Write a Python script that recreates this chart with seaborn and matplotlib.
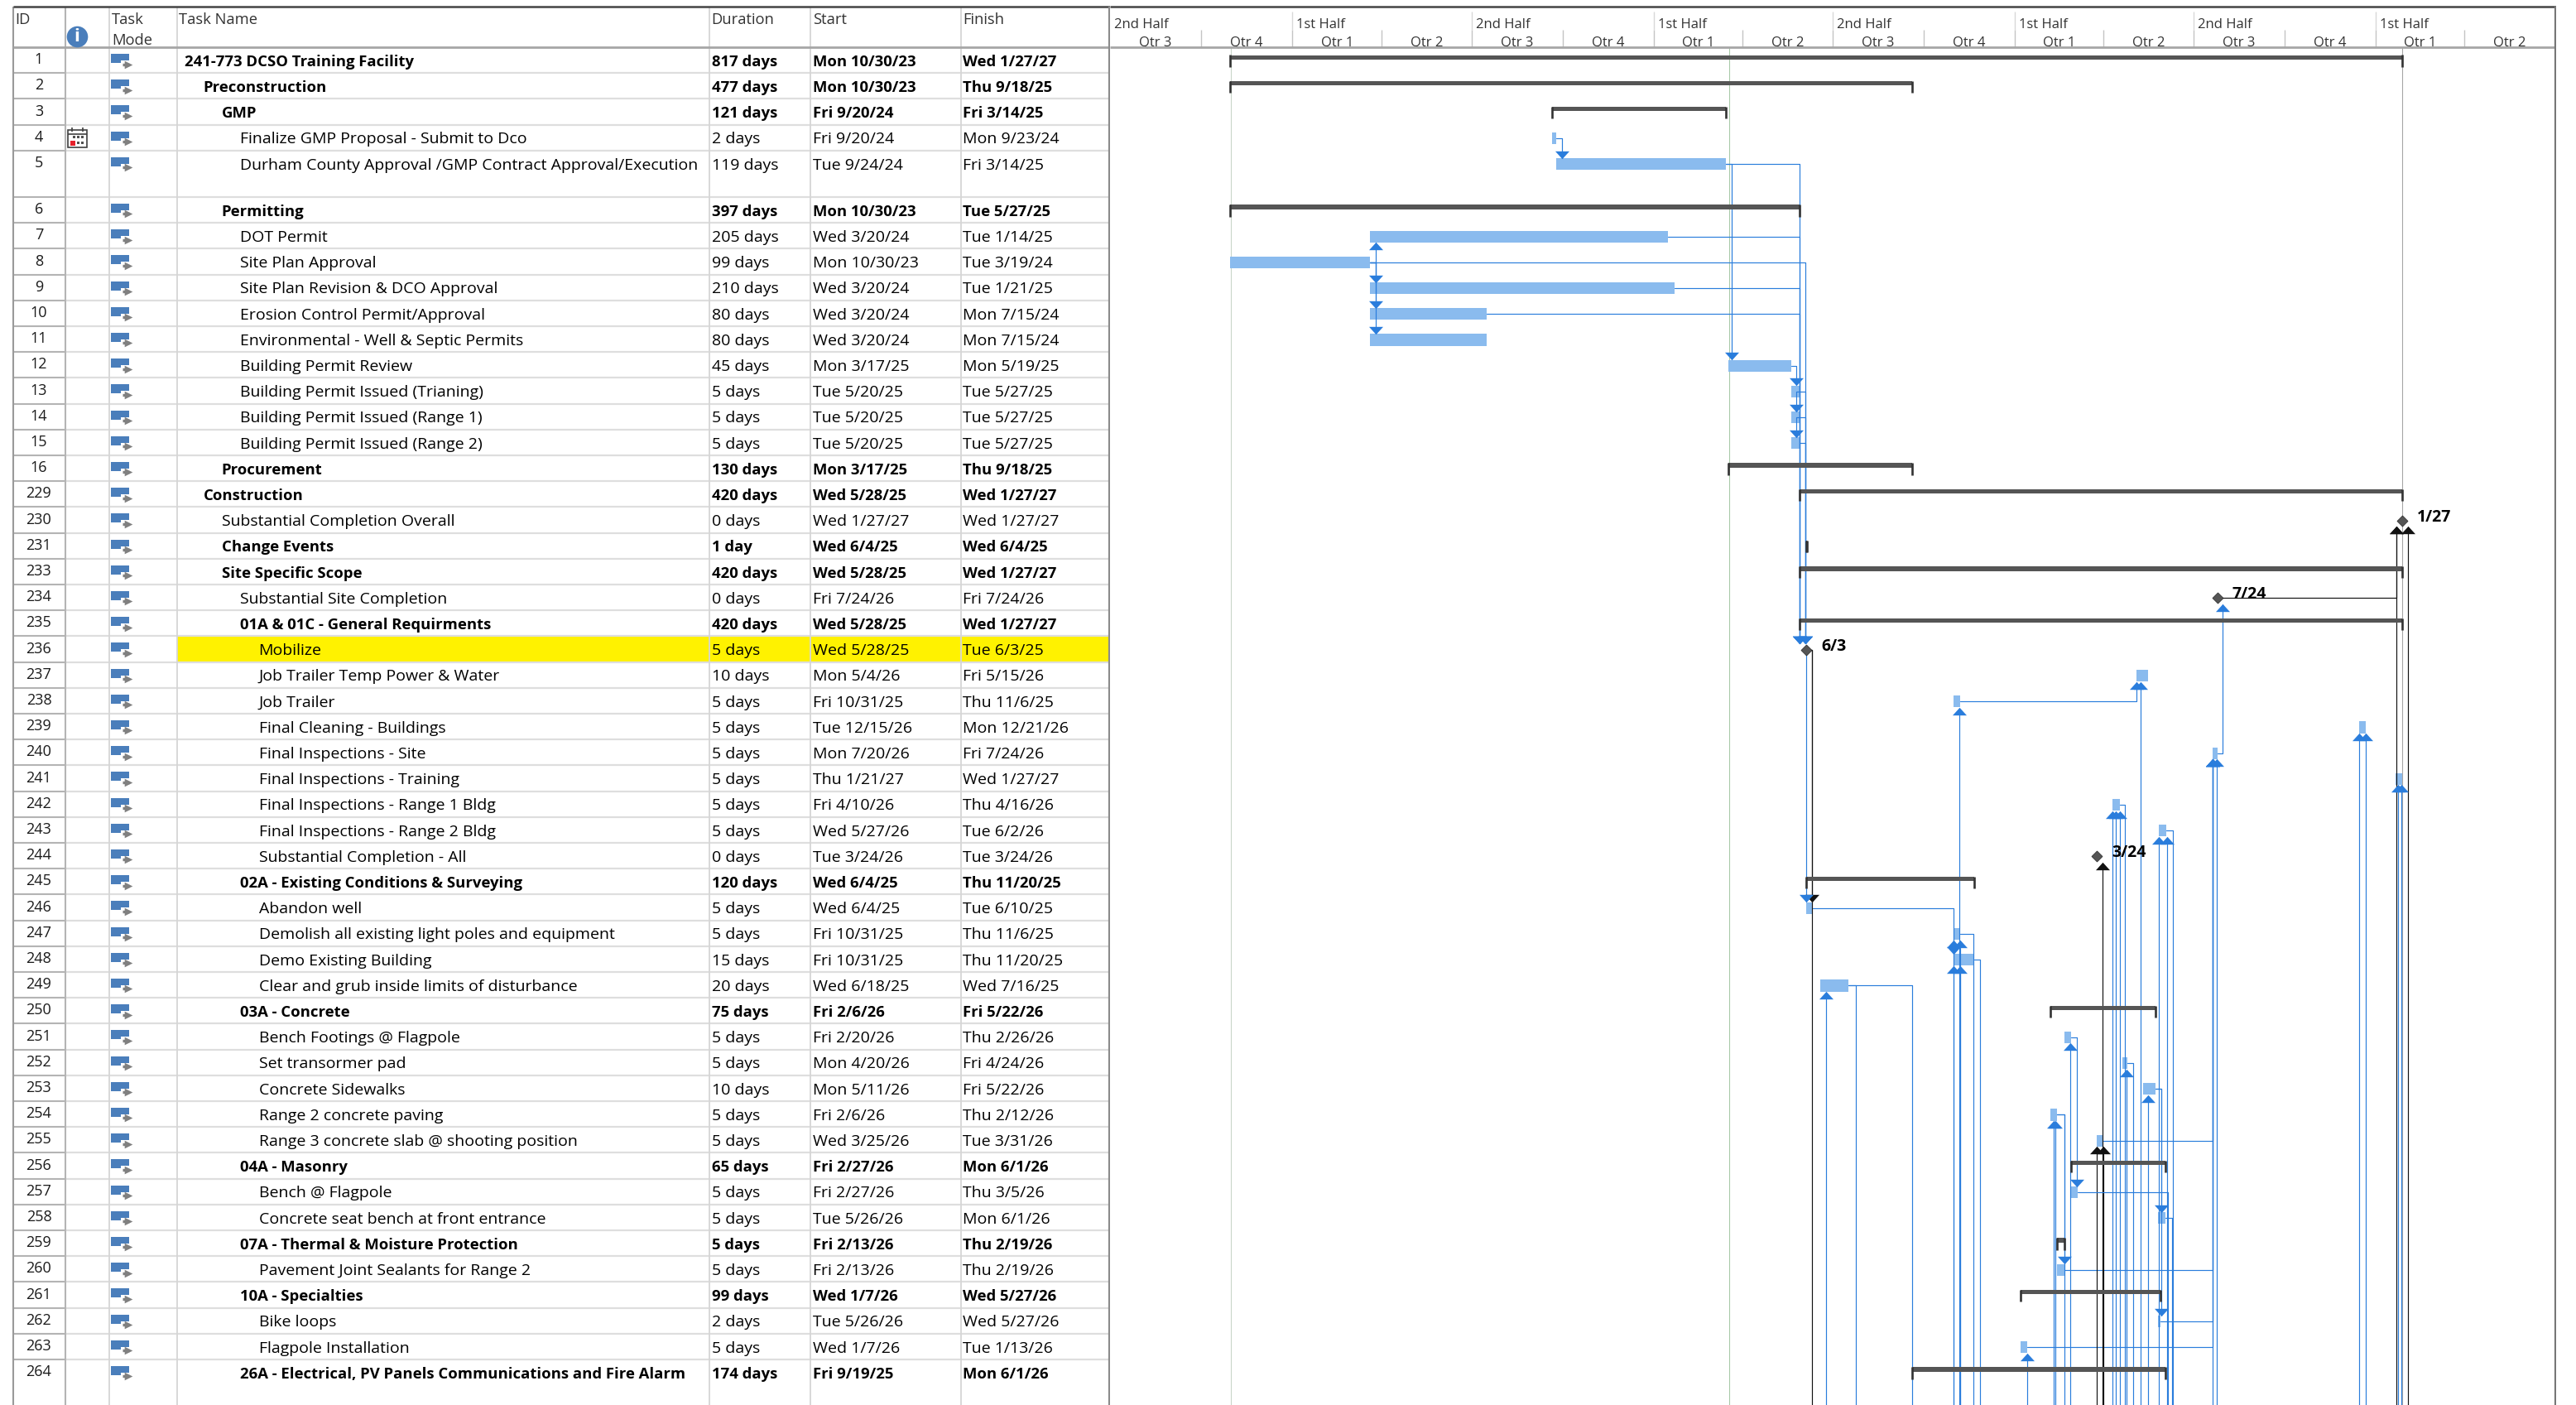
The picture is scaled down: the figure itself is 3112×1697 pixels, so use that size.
import numpy as np
import pandas as pd
import matplotlib
matplotlib.use("Agg")
import matplotlib.pyplot as plt
import matplotlib.dates as mdates
from matplotlib.patches import Rectangle
import seaborn as sns

# table columns, as printed in the schedule
ids = [1, 2, 3, 4, 5, 6, 7, 8, 9, 10, 11, 12, 13, 14, 15, 16,
       229, 230, 231, 233, 234, 235, 236, 237, 238, 239, 240, 241, 242, 243, 244,
       245, 246, 247, 248, 249, 250, 251, 252, 253, 254, 255, 256, 257, 258,
       259, 260, 261, 262, 263, 264]
names = [
    "241-773 DCSO Training Facility", "Preconstruction", "GMP",
    "Finalize GMP Proposal - Submit to Dco",
    "Durham County Approval /GMP Contract Approval/Execution", "Permitting",
    "DOT Permit", "Site Plan Approval", "Site Plan Revision & DCO Approval",
    "Erosion Control Permit/Approval", "Environmental - Well & Septic Permits",
    "Building Permit Review", "Building Permit Issued (Trianing)",
    "Building Permit Issued (Range 1)", "Building Permit Issued (Range 2)", "Procurement",
    "Construction", "Substantial Completion Overall", "Change Events", "Site Specific Scope",
    "Substantial Site Completion", "01A & 01C - General Requirments", "Mobilize",
    "Job Trailer Temp Power & Water", "Job Trailer", "Final Cleaning - Buildings",
    "Final Inspections - Site", "Final Inspections - Training",
    "Final Inspections - Range 1 Bldg", "Final Inspections - Range 2 Bldg",
    "Substantial Completion - All", "02A - Existing Conditions & Surveying", "Abandon well",
    "Demolish all existing light poles and equipment", "Demo Existing Building",
    "Clear and grub inside limits of disturbance", "03A - Concrete",
    "Bench Footings @ Flagpole", "Set transormer pad", "Concrete Sidewalks",
    "Range 2 concrete paving", "Range 3 concrete slab @ shooting position", "04A - Masonry",
    "Bench @ Flagpole", "Concrete seat bench at front entrance",
    "07A - Thermal & Moisture Protection", "Pavement Joint Sealants for Range 2",
    "10A - Specialties", "Bike loops", "Flagpole Installation",
    "26A - Electrical, PV Panels Communications and Fire Alarm",
]
durations = [
    "817 days", "477 days", "121 days", "2 days", "119 days", "397 days", "205 days", "99 days",
    "210 days", "80 days", "80 days", "45 days", "5 days", "5 days", "5 days", "130 days",
    "420 days", "0 days", "1 day", "420 days", "0 days", "420 days", "5 days", "10 days",
    "5 days", "5 days", "5 days", "5 days", "5 days", "5 days", "0 days", "120 days",
    "5 days", "5 days", "15 days", "20 days", "75 days", "5 days", "5 days", "10 days",
    "5 days", "5 days", "65 days", "5 days", "5 days", "5 days", "5 days", "99 days",
    "2 days", "5 days", "174 days",
]
starts = [
    "Mon 10/30/23", "Mon 10/30/23", "Fri 9/20/24", "Fri 9/20/24", "Tue 9/24/24", "Mon 10/30/23",
    "Wed 3/20/24", "Mon 10/30/23", "Wed 3/20/24", "Wed 3/20/24", "Wed 3/20/24", "Mon 3/17/25",
    "Tue 5/20/25", "Tue 5/20/25", "Tue 5/20/25", "Mon 3/17/25", "Wed 5/28/25", "Wed 1/27/27",
    "Wed 6/4/25", "Wed 5/28/25", "Fri 7/24/26", "Wed 5/28/25", "Wed 5/28/25", "Mon 5/4/26",
    "Fri 10/31/25", "Tue 12/15/26", "Mon 7/20/26", "Thu 1/21/27", "Fri 4/10/26", "Wed 5/27/26",
    "Tue 3/24/26", "Wed 6/4/25", "Wed 6/4/25", "Fri 10/31/25", "Fri 10/31/25", "Wed 6/18/25",
    "Fri 2/6/26", "Fri 2/20/26", "Mon 4/20/26", "Mon 5/11/26", "Fri 2/6/26", "Wed 3/25/26",
    "Fri 2/27/26", "Fri 2/27/26", "Tue 5/26/26", "Fri 2/13/26", "Fri 2/13/26", "Wed 1/7/26",
    "Tue 5/26/26", "Wed 1/7/26", "Fri 9/19/25",
]
finishes = [
    "Wed 1/27/27", "Thu 9/18/25", "Fri 3/14/25", "Mon 9/23/24", "Fri 3/14/25", "Tue 5/27/25",
    "Tue 1/14/25", "Tue 3/19/24", "Tue 1/21/25", "Mon 7/15/24", "Mon 7/15/24", "Mon 5/19/25",
    "Tue 5/27/25", "Tue 5/27/25", "Tue 5/27/25", "Thu 9/18/25", "Wed 1/27/27", "Wed 1/27/27",
    "Wed 6/4/25", "Wed 1/27/27", "Fri 7/24/26", "Wed 1/27/27", "Tue 6/3/25", "Fri 5/15/26",
    "Thu 11/6/25", "Mon 12/21/26", "Fri 7/24/26", "Wed 1/27/27", "Thu 4/16/26", "Tue 6/2/26",
    "Tue 3/24/26", "Thu 11/20/25", "Tue 6/10/25", "Thu 11/6/25", "Thu 11/20/25", "Wed 7/16/25",
    "Fri 5/22/26", "Thu 2/26/26", "Fri 4/24/26", "Fri 5/22/26", "Thu 2/12/26", "Tue 3/31/26",
    "Mon 6/1/26", "Thu 3/5/26", "Mon 6/1/26", "Thu 2/19/26", "Thu 2/19/26", "Wed 5/27/26",
    "Wed 5/27/26", "Tue 1/13/26", "Mon 6/1/26",
]
levels = [0, 1, 2, 3, 3, 2, 3, 3, 3, 3, 3, 3, 3, 3, 3, 2,
          1, 2, 2, 2, 3, 3, 4, 4, 4, 4, 4, 4, 4, 4, 4,
          3, 4, 4, 4, 4, 3, 4, 4, 4, 4, 4, 3, 4, 4, 3, 4, 3, 4, 4, 3]
summary_ids = [1, 2, 3, 6, 16, 229, 231, 233, 235, 245, 250, 256, 259, 261, 264]
milestone_ids = [230, 234, 236, 244]
highlight_id = 236
tall_id = 5

half_labels = ["2nd Half", "1st Half"] * 4
quarter_labels = ["Qtr 3", "Qtr 4", "Qtr 1", "Qtr 2"] * 4
marker_dates = ["2023-10-30", "2025-03-17", "2027-01-27"]

# dependencies drawn between visible tasks: predecessor, successor, days right of successor start
links = [
    (4, 5, 6), (5, 12, 4), (5, 236, 0), (7, 236, 0), (8, 236, 6), (9, 236, 0), (10, 236, 0),
    (8, 7, 6), (8, 9, 6), (8, 10, 6), (8, 11, 6), (12, 13, 5), (13, 14, 5), (14, 15, 5),
    (13, 236, 6), (14, 236, 6), (15, 236, 6), (236, 246, 0), (238, 237, 0), (240, 234, 6),
    (246, 248, 0), (251, 257, 6), (254, 260, 7), (253, 258, 3), (253, 262, 3),
    (255, 240, 0), (260, 240, 0), (262, 240, 0), (263, 240, 0),
]
black_links = [(234, 230, -5), (236, 246, 6)]
# successors further down the schedule: task, days right of task start for the rising line
from_below = [
    (238, 6), (237, 4), (239, 0), (239, 7), (240, 0), (240, 4), (241, 3), (241, 6),
    (242, 0), (242, 3), (242, 7), (243, 0), (243, 8), (247, 0), (247, 7), (248, 0), (248, 7),
    (249, 6), (251, 6), (252, 4), (253, 5), (254, 3), (254, 5), (263, 7),
]
black_from_below = [(255, 0), (255, 7), (244, 7), (230, 7), (230, -5)]
# tasks whose successors are below the chart: task, days right of task finish
to_below = [
    (247, 13), (248, 6), (249, 7), (249, 64), (254, 7), (252, 6), (242, 5), (243, 7),
    (257, 91), (258, 7),
]
black_to_below = [(236, 6)]

BLUE = "#2A7DDC"
BAR = "#8ABBEE"
DARK = "#555555"
TEXT = "#1A1A1A"
GRID = "#DEDEDE"
ROW_PX = 31.2
HEAD_PX = 57
FIG_W, FIG_H = 3112, 1697
TABLE_R, GANTT_R = 1341, 3088
PX_PER_DAY = 1.1945
NAME_X, DUR_X, START_X, FINISH_X = 223, 860, 982, 1163
COLS = [79, 132, 214, 857, 979, 1161]

sns.set_theme(style="white")
plt.rcParams["font.family"] = ["Open Sans", "DejaVu Sans"]
FONT = 14.0
FONT_BOLD = 13.3


def y_of(px):
    return (px - HEAD_PX) / ROW_PX


df = pd.DataFrame({"id": ids, "name": names, "duration": durations, "start_txt": starts,
                   "finish_txt": finishes, "level": levels})
df["start"] = pd.to_datetime(df.start_txt.str.split().str[1], format="%m/%d/%y")
df["finish"] = pd.to_datetime(df.finish_txt.str.split().str[1], format="%m/%d/%y")
df["x0"] = mdates.date2num(df.start)
df["x1"] = mdates.date2num(df.finish) + 1
df["span"] = df.x1 - df.x0
df["top"] = np.r_[0, np.cumsum([1.8 if i == tall_id else 1.0 for i in ids])[:-1]]
df["mid"] = df.top + 0.53
df["bold"] = df.id.isin(summary_ids)
df = df.set_index("id", drop=False)

fig = plt.figure(figsize=(FIG_W / 100, FIG_H / 100), dpi=100)
ax_t = fig.add_axes([0, 0, TABLE_R / FIG_W, 1])
ax_g = fig.add_axes([TABLE_R / FIG_W, 0, (GANTT_R - TABLE_R) / FIG_W, 1])
y_top, y_bot = y_of(0), y_of(FIG_H)

# ---- table side ----
yl = df.loc[highlight_id]
ax_t.add_patch(Rectangle((COLS[2], yl.top), TABLE_R - COLS[2], 0.97, color="#FFF200", lw=0, zorder=1))
for r in df.itertuples():
    bottom = r.top + (1.8 if r.id == tall_id else 1.0)
    # the last row stays open at the bottom
    if r.id != ids[-1]:
        ax_t.hlines(bottom, COLS[0], TABLE_R, color=GRID, lw=1.6, zorder=2)
        ax_t.hlines(bottom, 16, COLS[0], color="#B4B4B4", lw=1.5, zorder=2)
    weight = "bold" if r.bold else "normal"
    size = FONT_BOLD if r.bold else FONT
    base = r.top + 0.73
    ax_t.text(47, r.top + 0.65, str(r.id), ha="center", va="baseline", fontsize=FONT - 1, color=TEXT)
    for x, txt in [(NAME_X + r.level * 22.4, r.name), (DUR_X, r.duration), (START_X, r.start_txt), (FINISH_X, r.finish_txt)]:
        ax_t.text(x, base, txt, va="baseline", fontsize=size, weight=weight, color="black", zorder=6)
    # task mode icon
    ax_t.add_patch(Rectangle((134, r.top + 8 / ROW_PX), 22, 11 / ROW_PX, color="#4A7EBB", lw=0, zorder=3))
    ax_t.add_patch(Rectangle((146, r.top + 16 / ROW_PX), 14, 10 / ROW_PX, color="white", lw=0, zorder=3))
    ax_t.hlines(r.top + 20.5 / ROW_PX, 148, 156, color="#808080", lw=2.4, zorder=4)

sns.scatterplot(x=np.full(len(df), 155.5), y=df.top + 20.5 / ROW_PX, marker=">", s=48, color="#808080",
                linewidth=0, ax=ax_t, zorder=4, legend=False)

for x in COLS[1:]:
    ax_t.vlines(x, y_of(8), y_bot, color="#D6D6D6", lw=1.3, zorder=2)
ax_t.vlines(COLS[0], y_of(8), y_bot, color="#B4B4B4", lw=1.5, zorder=2)
ax_t.vlines(16, y_of(8), y_bot, color="#9A9A9A", lw=1.5, zorder=2)
ax_t.vlines(TABLE_R - 0.5, y_of(8), y_bot, color="#8C8C8C", lw=1.6, zorder=5)
ax_t.hlines(0, 16, TABLE_R, color="#A6A6A6", lw=2, zorder=3)
ax_t.hlines(y_of(8), 16, TABLE_R, color="#444444", lw=1.8, zorder=3)

# header labels
for x, lab in [(18, "ID"), (135, "Task"), (216, "Task Name"), (859, "Duration"), (982, "Start"), (1163, "Finish")]:
    ax_t.text(x, y_of(29), lab, va="baseline", fontsize=FONT - 0.8, color="#333333")
ax_t.text(135, y_of(54), "Mode", va="baseline", fontsize=FONT - 0.8, color="#333333")
sns.scatterplot(x=[93], y=[y_of(44)], s=340, color="#4A7EBB", linewidth=0, ax=ax_t, zorder=4, legend=False)
ax_t.text(93, y_of(44), "i", ha="center", va="center", color="white", weight="bold", fontsize=16, zorder=5)

# calendar indicator next to task 4
cal = df.loc[4].top
ax_t.add_patch(Rectangle((82, cal + 6 / ROW_PX), 23, 21 / ROW_PX, fc="white", ec="#404040", lw=1.2, zorder=4))
ax_t.hlines(cal + 11 / ROW_PX, 82, 105, color="#404040", lw=1.2, zorder=5)
ax_t.vlines([87, 100], cal + 3 / ROW_PX, cal + 8 / ROW_PX, color="#404040", lw=1.2, zorder=5)
ax_t.add_patch(Rectangle((85, cal + 19 / ROW_PX), 6, 6 / ROW_PX, color="#E5202A", lw=0, zorder=5))
for dx, dy in [(89, 14), (94, 14), (99, 14), (94, 21), (99, 21)]:
    ax_t.add_patch(Rectangle((dx - 1, cal + (dy - 1) / ROW_PX), 3, 3 / ROW_PX, color="#505050", lw=0, zorder=5))

ax_t.set_xlim(0, TABLE_R)
ax_t.set_ylim(y_bot, y_top)
ax_t.axis("off")

# ---- gantt side ----
d0 = mdates.date2num(pd.Timestamp("2023-07-01"))
x_right = d0 + (GANTT_R - TABLE_R) / PX_PER_DAY
quarters = pd.date_range("2023-07-01", periods=17, freq="QS")
qnum = mdates.date2num(quarters)

for i, lab in enumerate(quarter_labels):
    ax_g.text((qnum[i] + qnum[i + 1]) / 2, y_of(55), lab, ha="center", va="baseline", fontsize=FONT - 2, color="#333333")
    ax_g.vlines(qnum[i + 1], y_of(36), 0, color="#C4C4C4", lw=1, zorder=1)
for i, lab in enumerate(half_labels):
    ax_g.text(qnum[2 * i] + 4, y_of(34), lab, va="baseline", fontsize=FONT - 2, color="#333333")
    if i:
        ax_g.vlines(qnum[2 * i], y_of(14), y_of(36), color="#D8D8D8", lw=1, zorder=1)
ax_g.hlines(0, d0, x_right, color="#A6A6A6", lw=2, zorder=3)
ax_g.hlines(y_of(8), d0, x_right, color="#444444", lw=1.8, zorder=3)
ax_g.vlines(x_right - 1, y_of(8), y_bot, color="#777777", lw=1.6, zorder=5)

marker_colors = ["#C9D6C9", "#A9C9A9", "#A6A6A6"]
for day, col in zip(marker_dates, marker_colors):
    ax_g.vlines(mdates.date2num(pd.Timestamp(day)) + 1, 0, y_bot, color=col, lw=0.8, zorder=1)

# task bars and summary bars
tasks = df[~df.bold & ~df.id.isin(milestone_ids)]
sns.barplot(x=tasks.span.values, y=tasks.mid.values, orient="h", native_scale=True, left=tasks.x0.values,
            width=0.45, color=BAR, saturation=1, errorbar=None, linewidth=0, ax=ax_g, zorder=2, legend=False)
summ = df[df.bold]
sns.barplot(x=summ.span.values, y=(summ.top + 0.39).values, orient="h", native_scale=True, left=summ.x0.values,
            width=0.17, color=DARK, saturation=1, errorbar=None, linewidth=0, ax=ax_g, zorder=4, legend=False)
ax_g.vlines(summ.x0.values, summ.top + 0.30, summ.top + 0.76, color="#333333", lw=1.9, zorder=4)
ax_g.vlines(summ.x1.values, summ.top + 0.30, summ.top + 0.76, color="#333333", lw=1.9, zorder=4)

heads = {"up": [], "down": []}


def add_link(src, dst, offset, color):
    a, b = df.loc[src], df.loc[dst]
    lane = b.x0 + offset
    going_down = b.mid > a.mid
    end = b.mid - 0.24 if going_down else b.mid + 0.24
    ax_g.plot([a.x1, lane, lane], [a.mid, a.mid, end], color=color, lw=0.85, zorder=3, solid_joinstyle="round")
    heads["down" if going_down else "up"].append((lane, b.mid + (-0.37 if going_down else 0.37), color))


def add_from_below(task, offset, color):
    t = df.loc[task]
    lane = t.x0 + offset
    ax_g.plot([lane, lane], [t.mid + 0.3, y_bot], color=color, lw=0.85, zorder=3)
    heads["up"].append((lane, t.mid + 0.37, color))


def add_to_below(task, offset, color):
    t = df.loc[task]
    lane = t.x1 + offset
    ax_g.plot([t.x1, lane, lane], [t.mid, t.mid, y_bot], color=color, lw=0.85, zorder=3)


for src, dst, off in links:
    add_link(src, dst, off, BLUE)
for src, dst, off in black_links:
    add_link(src, dst, off, "#111111")
for task, off in from_below:
    add_from_below(task, off, BLUE)
for task, off in black_from_below:
    add_from_below(task, off, "#111111")
for task, off in to_below:
    add_to_below(task, off, BLUE)
for task, off in black_to_below:
    add_to_below(task, off, "#111111")

# arrowheads keep their wide flat shape through custom vertices
up_shape = np.array([[-1, -0.55], [1, -0.55], [0, 0.55], [-1, -0.55]])
down_shape = np.array([[-1, 0.55], [1, 0.55], [0, -0.55], [-1, 0.55]])
for key, shape in [("up", up_shape), ("down", down_shape)]:
    h = pd.DataFrame(heads[key], columns=["x", "y", "c"])
    for col, part in h.groupby("c"):
        sns.scatterplot(data=part, x="x", y="y", marker=shape, s=150, color=col, linewidth=0,
                        ax=ax_g, zorder=6, legend=False)

# milestones with their date labels
ms = df.loc[milestone_ids]
sns.scatterplot(x=ms.x1.values, y=ms.mid.values, marker="D", s=44, color=DARK, edgecolor="#222222",
                linewidth=0.5, ax=ax_g, zorder=7, legend=False)
for m in ms.itertuples():
    ax_g.annotate(f"{m.finish.month}/{m.finish.day}", (m.x1, m.mid), xytext=(13, 3), textcoords="offset points",
                  va="center", fontsize=FONT, weight="bold", color="black", zorder=8)

ax_g.set_xlim(d0, x_right)
ax_g.set_ylim(y_bot, y_top)
ax_g.axis("off")

fig.savefig("out.png", dpi=100, facecolor="white")
